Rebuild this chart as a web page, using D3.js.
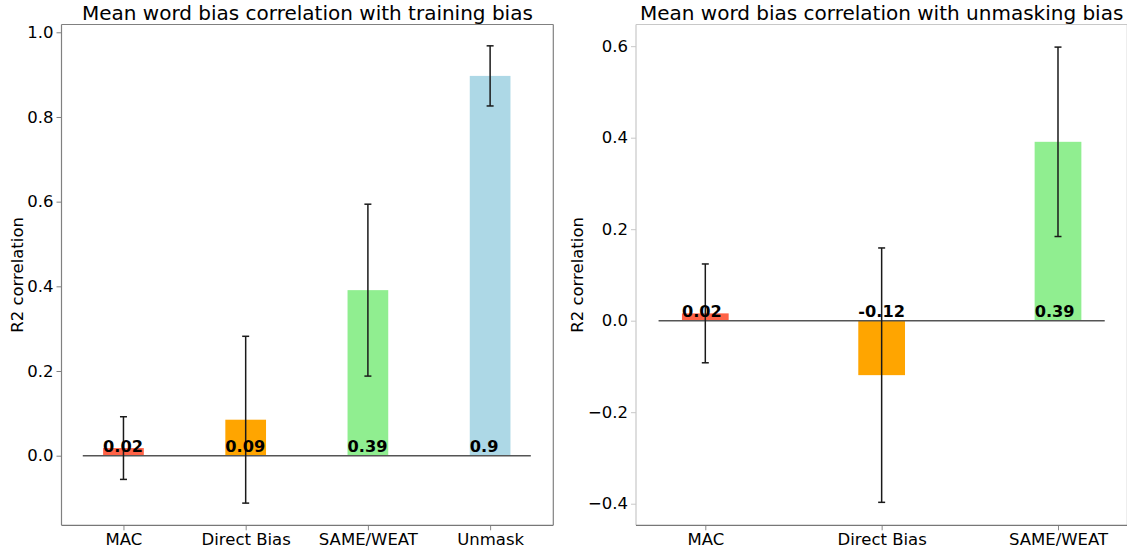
<!DOCTYPE html>
<html>
<head>
<meta charset="utf-8">
<script src="https://cdn.jsdelivr.net/npm/d3@7"></script>
<style>
  html, body { margin: 0; padding: 0; background: #fff; }
  svg { display: block; font-family: "DejaVu Sans", sans-serif; }
</style>
</head>
<body>
<svg id="chart" width="1127" height="550"></svg>
<script>
// ---- data ----
const leftTitle = "Mean word bias correlation with training bias";
const leftCategories = ["MAC", "Direct Bias", "SAME/WEAT", "Unmask"];
const leftValues = [0.018, 0.085, 0.391, 0.897];
const leftErrors = [0.074, 0.197, 0.203, 0.071];
const leftLabels = ["0.02", "0.09", "0.39", "0.9"];
const leftTicks = [0.0, 0.2, 0.4, 0.6, 0.8, 1.0];

const rightTitle = "Mean word bias correlation with unmasking bias";
const rightCategories = ["MAC", "Direct Bias", "SAME/WEAT"];
const rightValues = [0.016, -0.119, 0.391];
const rightErrors = [0.108, 0.278, 0.207];
const rightLabels = ["0.02", "-0.12", "0.39"];
const rightTicks = [-0.4, -0.2, 0.0, 0.2, 0.4, 0.6];

const barColors = ["#ff6347", "#ffa500", "#90ee90", "#add8e6"];
const yLabel = "R2 correlation";

const svg = d3.select("#chart");
const fmtTick = d => (d < 0 ? "\u2212" : "") + Math.abs(d).toFixed(1);
const TICK_FS = "16.5px";

function panel(cfg) {
  const g = svg.append("g");
  const x = d3.scaleLinear().domain(cfg.xDomain).range([cfg.left, cfg.right]);
  const y = d3.scaleLinear().domain(cfg.yDomain).range([cfg.bottom, cfg.top]);
  const n = cfg.categories.length;
  const w = cfg.barWidth;

  // bars
  g.selectAll("rect.bar").data(cfg.values).join("rect")
    .attr("x", (d, i) => x(i - w / 2))
    .attr("width", x(w) - x(0))
    .attr("y", d => y(Math.max(0, d)))
    .attr("height", d => Math.abs(y(d) - y(0)))
    .attr("fill", (d, i) => barColors[i]);

  // zero line
  g.append("line")
    .attr("x1", x(-w)).attr("x2", x(n - 1 + w))
    .attr("y1", y(0)).attr("y2", y(0))
    .attr("stroke", "#555").attr("stroke-width", 1.5);

  // error bars
  const eb = g.selectAll("g.err").data(cfg.values).join("g");
  eb.append("line")
    .attr("x1", (d, i) => x(i)).attr("x2", (d, i) => x(i))
    .attr("y1", (d, i) => y(d + cfg.errors[i]))
    .attr("y2", (d, i) => y(d - cfg.errors[i]))
    .attr("stroke", "#1a1a1a").attr("stroke-width", 1.5);
  [1, -1].forEach(s => {
    eb.append("line")
      .attr("x1", (d, i) => x(i) - 3.5).attr("x2", (d, i) => x(i) + 3.5)
      .attr("y1", (d, i) => y(d + s * cfg.errors[i]))
      .attr("y2", (d, i) => y(d + s * cfg.errors[i]))
      .attr("stroke", "#1a1a1a").attr("stroke-width", 1.5);
  });

  // value labels
  g.selectAll("text.val").data(cfg.labels).join("text")
    .attr("x", (d, i) => x(i - w / 2))
    .attr("y", y(0) - 3.5)
    .attr("font-size", "16.2px").attr("font-weight", "bold")
    .attr("fill", "#000")
    .text(d => d);

  // y axis
  const yAxis = d3.axisLeft(y).tickValues(cfg.ticks).tickFormat(fmtTick)
    .tickSize(5).tickPadding(3);
  const ya = g.append("g").attr("transform", `translate(${cfg.left},0)`).call(yAxis);
  ya.select(".domain").remove();
  ya.selectAll(".tick line").attr("stroke", cfg.leftSpine);
  ya.selectAll(".tick text").attr("font-size", TICK_FS).attr("fill", "#000")
    .attr("font-family", "DejaVu Sans");

  // x axis
  const xAxis = d3.axisBottom(x).tickValues(d3.range(n))
    .tickFormat(i => cfg.categories[i]).tickSize(5).tickPadding(3);
  const xa = g.append("g").attr("transform", `translate(0,${cfg.bottom})`).call(xAxis);
  xa.select(".domain").remove();
  xa.selectAll(".tick line").attr("stroke", "#888");
  xa.selectAll(".tick text").attr("font-size", TICK_FS).attr("fill", "#000")
    .attr("font-family", "DejaVu Sans");

  // spines
  const sp = (x1, y1, x2, y2, c) => g.append("line")
    .attr("x1", x1).attr("y1", y1).attr("x2", x2).attr("y2", y2)
    .attr("stroke", c).attr("stroke-width", 1.2);
  sp(cfg.left, cfg.top, cfg.left, cfg.bottom, cfg.leftSpine);
  sp(cfg.left, cfg.top, cfg.right, cfg.top, cfg.topSpine);
  sp(cfg.right, cfg.top, cfg.right, cfg.bottom, cfg.topSpine);
  sp(cfg.left, cfg.bottom, cfg.right, cfg.bottom, "#777");

  // title
  g.append("text")
    .attr("x", (cfg.left + cfg.right) / 2).attr("y", 19.5)
    .attr("text-anchor", "middle").attr("font-size", "20px").attr("fill", "#000")
    .text(cfg.title);

  // y label
  g.append("text")
    .attr("transform", `translate(${cfg.yLabelX},${(cfg.top + cfg.bottom) / 2}) rotate(-90)`)
    .attr("text-anchor", "middle").attr("font-size", TICK_FS).attr("fill", "#000")
    .text(yLabel);
}

panel({
  title: leftTitle, categories: leftCategories, values: leftValues, errors: leftErrors,
  labels: leftLabels, ticks: leftTicks,
  left: 61.5, right: 553.3, top: 24.5, bottom: 525.3,
  xDomain: [-0.507, 3.517], yDomain: [-0.1644, 1.0184],
  barWidth: 0.333, yLabelX: 23,
  leftSpine: "#808080", topSpine: "#808080"
});

panel({
  title: rightTitle, categories: rightCategories, values: rightValues, errors: rightErrors,
  labels: rightLabels, ticks: rightTicks,
  left: 636, right: 1127.3, top: 24.5, bottom: 525.3,
  xDomain: [-0.393, 2.393], yDomain: [-0.4472, 0.6474],
  barWidth: 0.265, yLabelX: 583,
  leftSpine: "#c8c8c8", topSpine: "#c8c8c8"
});
</script>
</body>
</html>
